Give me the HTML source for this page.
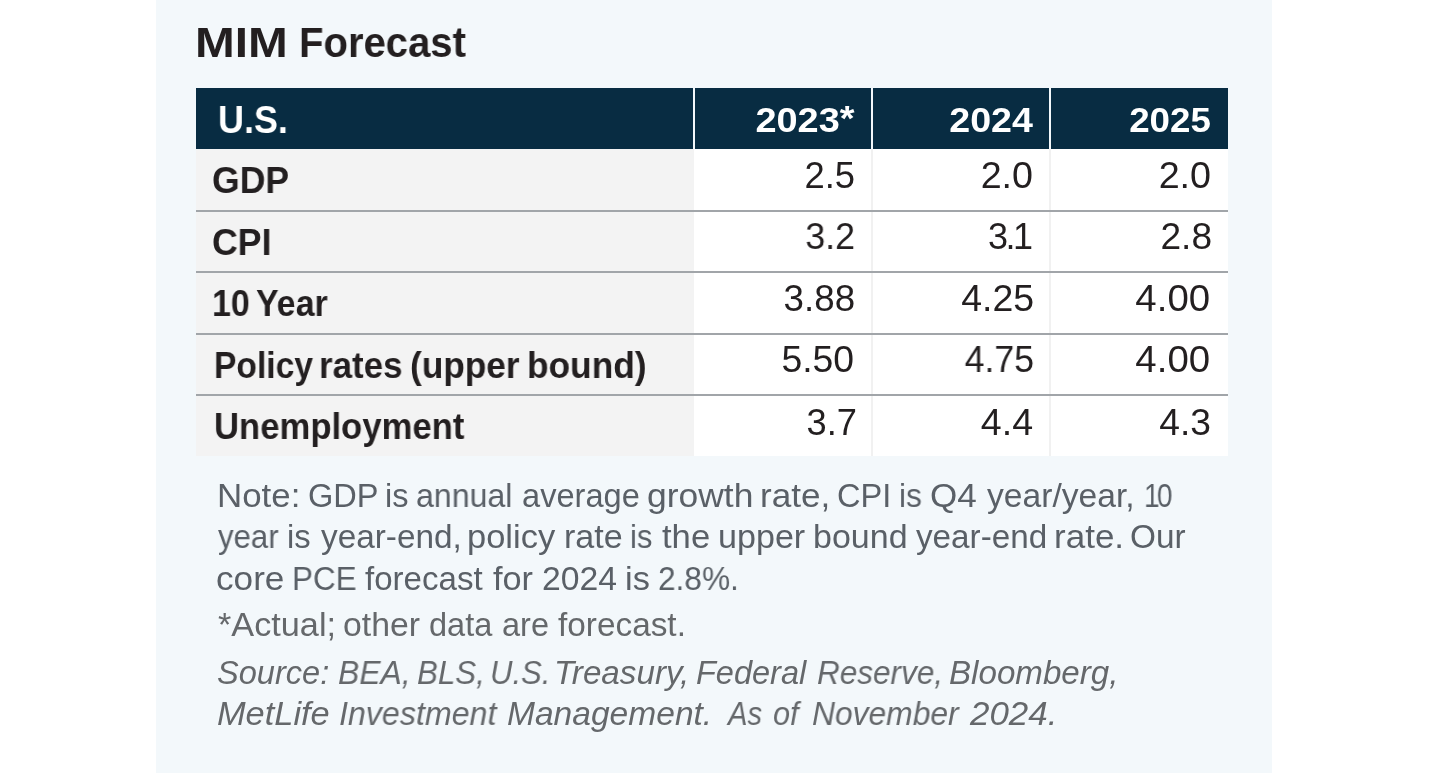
<!DOCTYPE html>
<html><head><meta charset="utf-8"><title>MIM Forecast</title><style>
*{margin:0;padding:0;box-sizing:border-box}
html,body{width:1429px;height:773px;overflow:hidden;background:#fff}
body{position:relative;font-family:"Liberation Sans",sans-serif}
.a{position:absolute}
.t{position:absolute;white-space:nowrap;line-height:1;will-change:transform}
</style></head><body>
<div class="a" style="left:156px;top:0;width:1116px;height:773px;background:#f3f8fb"></div>
<div class="a" style="left:196px;top:88px;width:497px;height:61px;background:#082c42"></div>
<div class="a" style="left:695px;top:88px;width:176px;height:61px;background:#082c42"></div>
<div class="a" style="left:873px;top:88px;width:176px;height:61px;background:#082c42"></div>
<div class="a" style="left:1051px;top:88px;width:177px;height:61px;background:#082c42"></div>
<div class="a" style="left:196px;top:149px;width:498px;height:307px;background:#f3f3f3"></div>
<div class="a" style="left:694px;top:149px;width:534px;height:307px;background:#fff"></div>
<div class="a" style="left:871px;top:149px;width:2px;height:307px;background:#f1f1f1"></div>
<div class="a" style="left:1049px;top:149px;width:2px;height:307px;background:#f1f1f1"></div>
<div class="a" style="left:196px;top:210px;width:1032px;height:2px;background:#a1a5a9"></div>
<div class="a" style="left:196px;top:271px;width:1032px;height:2px;background:#a1a5a9"></div>
<div class="a" style="left:196px;top:333px;width:1032px;height:2px;background:#a1a5a9"></div>
<div class="a" style="left:196px;top:394px;width:1032px;height:2px;background:#a1a5a9"></div>
<div class="t" style="left:195.40px;transform-origin:0 0;top:20.70px;font-size:43.4px;font-weight:700;font-style:normal;color:#231f20;letter-spacing:0px;transform:scaleX(1.1006);">MIM</div>
<div class="t" style="left:298.50px;transform-origin:0 0;top:22.16px;font-size:42.5px;font-weight:700;font-style:normal;color:#231f20;letter-spacing:0px;transform:scaleX(0.9424);">Forecast</div>
<div class="t" style="left:217.50px;transform-origin:0 0;top:99.90px;font-size:39px;font-weight:700;font-style:normal;color:#fff;letter-spacing:0px;transform:scaleX(0.9216);">U.S.</div>
<div class="t" style="right:574.40px;transform-origin:100% 0;top:102.09px;font-size:35px;font-weight:700;font-style:normal;color:#fff;letter-spacing:0px;transform:scaleX(1.0829);">2023<span style="position:relative;top:-2.5px">*</span></div>
<div class="t" style="right:396.60px;transform-origin:100% 0;top:102.37px;font-size:35px;font-weight:700;font-style:normal;color:#fff;letter-spacing:0px;transform:scaleX(1.0734);">2024</div>
<div class="t" style="right:218.30px;transform-origin:100% 0;top:102.37px;font-size:35px;font-weight:700;font-style:normal;color:#fff;letter-spacing:0px;transform:scaleX(1.0491);">2025</div>
<div class="t" style="left:212.00px;transform-origin:0 0;top:162.60px;font-size:36.5px;font-weight:700;font-style:normal;color:#231f20;letter-spacing:0px;transform:scaleX(0.9742);">GDP</div>
<div class="t" style="left:212.00px;transform-origin:0 0;top:224.70px;font-size:36.5px;font-weight:700;font-style:normal;color:#231f20;letter-spacing:0px;transform:scaleX(0.9776);">CPI</div>
<div class="t" style="left:211.59px;transform-origin:0 0;top:285.80px;font-size:36.5px;font-weight:700;font-style:normal;color:#231f20;transform:scaleX(0.9304);">10</div>
<div class="t" style="left:255.72px;transform-origin:0 0;top:285.80px;font-size:36.5px;font-weight:700;font-style:normal;color:#231f20;transform:scaleX(0.929);">Year</div>
<div class="t" style="left:213.68px;transform-origin:0 0;top:347.70px;font-size:36.5px;font-weight:700;font-style:normal;color:#231f20;transform:scaleX(0.9205);">Policy</div>
<div class="t" style="left:319.43px;transform-origin:0 0;top:347.70px;font-size:36.5px;font-weight:700;font-style:normal;color:#231f20;transform:scaleX(0.9568);">rates</div>
<div class="t" style="left:410.07px;transform-origin:0 0;top:347.70px;font-size:36.5px;font-weight:700;font-style:normal;color:#231f20;transform:scaleX(0.9654);">(upper</div>
<div class="t" style="left:526.91px;transform-origin:0 0;top:347.70px;font-size:36.5px;font-weight:700;font-style:normal;color:#231f20;transform:scaleX(0.9668);">bound)</div>
<div class="t" style="left:214.10px;transform-origin:0 0;top:409.00px;font-size:36.5px;font-weight:700;font-style:normal;color:#231f20;letter-spacing:0px;transform:scaleX(0.9495);">Unemployment</div>
<div class="t" style="right:573.50px;transform-origin:100% 0;top:157.92px;font-size:36px;font-weight:400;font-style:normal;color:#231f20;letter-spacing:0px;transform:scaleX(1.011);">2.5</div>
<div class="t" style="right:396.20px;transform-origin:100% 0;top:157.92px;font-size:36px;font-weight:400;font-style:normal;color:#231f20;letter-spacing:0px;transform:scaleX(1.0473);">2.0</div>
<div class="t" style="right:217.90px;transform-origin:100% 0;top:157.92px;font-size:36px;font-weight:400;font-style:normal;color:#231f20;letter-spacing:0px;transform:scaleX(1.0474);">2.0</div>
<div class="t" style="right:573.60px;transform-origin:100% 0;top:218.61px;font-size:36px;font-weight:400;font-style:normal;color:#231f20;letter-spacing:0px;transform:scaleX(0.9934);">3.2</div>
<div class="t" style="right:398.80px;transform-origin:100% 0;top:218.61px;font-size:36px;font-weight:400;font-style:normal;color:#231f20;letter-spacing:-2.5px;">3.1</div>
<div class="t" style="right:217.00px;transform-origin:100% 0;top:218.61px;font-size:36px;font-weight:400;font-style:normal;color:#231f20;letter-spacing:0px;transform:scaleX(1.03);">2.8</div>
<div class="t" style="right:574.20px;transform-origin:100% 0;top:280.61px;font-size:36px;font-weight:400;font-style:normal;color:#231f20;letter-spacing:0px;transform:scaleX(1.0198);">3.88</div>
<div class="t" style="right:395.00px;transform-origin:100% 0;top:280.61px;font-size:36px;font-weight:400;font-style:normal;color:#231f20;letter-spacing:0px;transform:scaleX(1.0401);">4.25</div>
<div class="t" style="right:218.50px;transform-origin:100% 0;top:280.61px;font-size:36px;font-weight:400;font-style:normal;color:#231f20;letter-spacing:0px;transform:scaleX(1.0661);">4.00</div>
<div class="t" style="right:574.50px;transform-origin:100% 0;top:341.53px;font-size:36px;font-weight:400;font-style:normal;color:#231f20;letter-spacing:0px;transform:scaleX(1.0371);">5.50</div>
<div class="t" style="right:395.00px;transform-origin:100% 0;top:341.53px;font-size:36px;font-weight:400;font-style:normal;color:#231f20;letter-spacing:0px;transform:scaleX(0.9904);">4.75</div>
<div class="t" style="right:218.50px;transform-origin:100% 0;top:341.53px;font-size:36px;font-weight:400;font-style:normal;color:#231f20;letter-spacing:0px;transform:scaleX(1.0661);">4.00</div>
<div class="t" style="right:572.20px;transform-origin:100% 0;top:404.54px;font-size:36px;font-weight:400;font-style:normal;color:#231f20;letter-spacing:0px;transform:scaleX(1.008);">3.7</div>
<div class="t" style="right:395.50px;transform-origin:100% 0;top:404.54px;font-size:36px;font-weight:400;font-style:normal;color:#231f20;letter-spacing:0px;transform:scaleX(1.0443);">4.4</div>
<div class="t" style="right:217.50px;transform-origin:100% 0;top:404.54px;font-size:36px;font-weight:400;font-style:normal;color:#231f20;letter-spacing:0px;transform:scaleX(1.0335);">4.3</div>
<div class="t" style="left:217.09px;transform-origin:0 0;top:480.19px;font-size:32.5px;font-weight:400;font-style:normal;color:#5a6067;transform:scaleX(1.0735);">Note:</div>
<div class="t" style="left:307.97px;transform-origin:0 0;top:480.19px;font-size:32.5px;font-weight:400;font-style:normal;color:#5a6067;transform:scaleX(1.0013);">GDP</div>
<div class="t" style="left:384.76px;transform-origin:0 0;top:480.19px;font-size:32.5px;font-weight:400;font-style:normal;color:#5a6067;transform:scaleX(0.9975);">is</div>
<div class="t" style="left:415.65px;transform-origin:0 0;top:480.19px;font-size:32.5px;font-weight:400;font-style:normal;color:#5a6067;transform:scaleX(0.9884);">annual</div>
<div class="t" style="left:521.63px;transform-origin:0 0;top:480.19px;font-size:32.5px;font-weight:400;font-style:normal;color:#5a6067;transform:scaleX(1.003);">average</div>
<div class="t" style="left:647.31px;transform-origin:0 0;top:480.19px;font-size:32.5px;font-weight:400;font-style:normal;color:#5a6067;transform:scaleX(1.0905);">growth</div>
<div class="t" style="left:760.28px;transform-origin:0 0;top:480.19px;font-size:32.5px;font-weight:400;font-style:normal;color:#5a6067;transform:scaleX(1.0823);">rate,</div>
<div class="t" style="left:836.97px;transform-origin:0 0;top:480.19px;font-size:32.5px;font-weight:400;font-style:normal;color:#5a6067;transform:scaleX(1.0028);">CPI</div>
<div class="t" style="left:898.91px;transform-origin:0 0;top:480.19px;font-size:32.5px;font-weight:400;font-style:normal;color:#5a6067;transform:scaleX(0.9727);">is</div>
<div class="t" style="left:929.95px;transform-origin:0 0;top:480.19px;font-size:32.5px;font-weight:400;font-style:normal;color:#5a6067;transform:scaleX(1.0786);">Q4</div>
<div class="t" style="left:986.63px;transform-origin:0 0;top:480.19px;font-size:32.5px;font-weight:400;font-style:normal;color:#5a6067;transform:scaleX(1.0342);">year/year,</div>
<div class="t" style="left:1143.88px;transform-origin:0 0;top:480.19px;font-size:32.5px;font-weight:400;font-style:normal;color:#5a6067;transform:scaleX(0.86);letter-spacing:-3px;">10</div>
<div class="t" style="left:218.44px;transform-origin:0 0;top:520.79px;font-size:32.5px;font-weight:400;font-style:normal;color:#5a6067;transform:scaleX(0.958);">year</div>
<div class="t" style="left:287.34px;transform-origin:0 0;top:520.79px;font-size:32.5px;font-weight:400;font-style:normal;color:#5a6067;transform:scaleX(1.0074);">is</div>
<div class="t" style="left:320.73px;transform-origin:0 0;top:520.79px;font-size:32.5px;font-weight:400;font-style:normal;color:#5a6067;transform:scaleX(1.0251);">year-end,</div>
<div class="t" style="left:467.29px;transform-origin:0 0;top:520.79px;font-size:32.5px;font-weight:400;font-style:normal;color:#5a6067;transform:scaleX(1.0611);">policy</div>
<div class="t" style="left:564.15px;transform-origin:0 0;top:520.79px;font-size:32.5px;font-weight:400;font-style:normal;color:#5a6067;transform:scaleX(1.0492);">rate</div>
<div class="t" style="left:630.36px;transform-origin:0 0;top:520.79px;font-size:32.5px;font-weight:400;font-style:normal;color:#5a6067;transform:scaleX(0.9529);">is</div>
<div class="t" style="left:662.08px;transform-origin:0 0;top:520.79px;font-size:32.5px;font-weight:400;font-style:normal;color:#5a6067;transform:scaleX(1.0657);">the</div>
<div class="t" style="left:717.52px;transform-origin:0 0;top:520.79px;font-size:32.5px;font-weight:400;font-style:normal;color:#5a6067;transform:scaleX(1.0492);">upper</div>
<div class="t" style="left:813.02px;transform-origin:0 0;top:520.79px;font-size:32.5px;font-weight:400;font-style:normal;color:#5a6067;transform:scaleX(1.0461);">bound</div>
<div class="t" style="left:916.33px;transform-origin:0 0;top:520.79px;font-size:32.5px;font-weight:400;font-style:normal;color:#5a6067;transform:scaleX(1.0227);">year-end</div>
<div class="t" style="left:1054.09px;transform-origin:0 0;top:520.79px;font-size:32.5px;font-weight:400;font-style:normal;color:#5a6067;transform:scaleX(1.0779);">rate.</div>
<div class="t" style="left:1130.43px;transform-origin:0 0;top:520.79px;font-size:32.5px;font-weight:400;font-style:normal;color:#5a6067;transform:scaleX(1.0263);">Our</div>
<div class="t" style="left:216.32px;transform-origin:0 0;top:562.79px;font-size:32.5px;font-weight:400;font-style:normal;color:#5a6067;transform:scaleX(1.0825);">core</div>
<div class="t" style="left:291.63px;transform-origin:0 0;top:562.79px;font-size:32.5px;font-weight:400;font-style:normal;color:#5a6067;transform:scaleX(0.9651);">PCE</div>
<div class="t" style="left:365.34px;transform-origin:0 0;top:562.79px;font-size:32.5px;font-weight:400;font-style:normal;color:#5a6067;transform:scaleX(1.0172);">forecast</div>
<div class="t" style="left:493.22px;transform-origin:0 0;top:562.79px;font-size:32.5px;font-weight:400;font-style:normal;color:#5a6067;transform:scaleX(1.0554);">for</div>
<div class="t" style="left:542.01px;transform-origin:0 0;top:562.79px;font-size:32.5px;font-weight:400;font-style:normal;color:#5a6067;transform:scaleX(1.0371);">2024</div>
<div class="t" style="left:624.73px;transform-origin:0 0;top:562.79px;font-size:32.5px;font-weight:400;font-style:normal;color:#5a6067;transform:scaleX(1.0571);">is</div>
<div class="t" style="left:657.72px;transform-origin:0 0;top:562.79px;font-size:32.5px;font-weight:400;font-style:normal;color:#5a6067;transform:scaleX(0.973);">2.8%.</div>
<div class="t" style="left:218.25px;transform-origin:0 0;top:608.99px;font-size:32.5px;font-weight:400;font-style:normal;color:#65686b;transform:scaleX(1.0539);">*Actual;</div>
<div class="t" style="left:342.78px;transform-origin:0 0;top:608.99px;font-size:32.5px;font-weight:400;font-style:normal;color:#65686b;transform:scaleX(1.0404);">other</div>
<div class="t" style="left:428.93px;transform-origin:0 0;top:608.99px;font-size:32.5px;font-weight:400;font-style:normal;color:#65686b;transform:scaleX(1.0014);">data</div>
<div class="t" style="left:501.95px;transform-origin:0 0;top:608.99px;font-size:32.5px;font-weight:400;font-style:normal;color:#65686b;transform:scaleX(0.9917);">are</div>
<div class="t" style="left:557.63px;transform-origin:0 0;top:608.99px;font-size:32.5px;font-weight:400;font-style:normal;color:#65686b;transform:scaleX(1.0262);">forecast.</div>
<div class="t" style="left:216.89px;transform-origin:0 0;top:656.89px;font-size:32.5px;font-weight:400;font-style:italic;color:#65686b;transform:scaleX(1.002);">Source:</div>
<div class="t" style="left:337.84px;transform-origin:0 0;top:656.89px;font-size:32.5px;font-weight:400;font-style:italic;color:#65686b;transform:scaleX(0.9809);">BEA,</div>
<div class="t" style="left:416.86px;transform-origin:0 0;top:656.89px;font-size:32.5px;font-weight:400;font-style:italic;color:#65686b;transform:scaleX(0.9617);">BLS,</div>
<div class="t" style="left:489.70px;transform-origin:0 0;top:656.89px;font-size:32.5px;font-weight:400;font-style:italic;color:#65686b;transform:scaleX(0.9553);">U.S.</div>
<div class="t" style="left:554.34px;transform-origin:0 0;top:656.89px;font-size:32.5px;font-weight:400;font-style:italic;color:#65686b;transform:scaleX(1.0217);">Treasury,</div>
<div class="t" style="left:695.83px;transform-origin:0 0;top:656.89px;font-size:32.5px;font-weight:400;font-style:italic;color:#65686b;transform:scaleX(0.9977);">Federal</div>
<div class="t" style="left:816.55px;transform-origin:0 0;top:656.89px;font-size:32.5px;font-weight:400;font-style:italic;color:#65686b;transform:scaleX(0.9695);">Reserve,</div>
<div class="t" style="left:949.01px;transform-origin:0 0;top:656.89px;font-size:32.5px;font-weight:400;font-style:italic;color:#65686b;transform:scaleX(1.0194);">Bloomberg,</div>
<div class="t" style="left:217.47px;transform-origin:0 0;top:698.19px;font-size:32.5px;font-weight:400;font-style:italic;color:#65686b;transform:scaleX(1.0572);">MetLife</div>
<div class="t" style="left:338.64px;transform-origin:0 0;top:698.19px;font-size:32.5px;font-weight:400;font-style:italic;color:#65686b;transform:scaleX(0.9904);">Investment</div>
<div class="t" style="left:507.19px;transform-origin:0 0;top:698.19px;font-size:32.5px;font-weight:400;font-style:italic;color:#65686b;transform:scaleX(1.0325);">Management.</div>
<div class="t" style="left:728.30px;transform-origin:0 0;top:698.19px;font-size:32.5px;font-weight:400;font-style:italic;color:#65686b;transform:scaleX(0.8971);">As</div>
<div class="t" style="left:773.22px;transform-origin:0 0;top:698.19px;font-size:32.5px;font-weight:400;font-style:italic;color:#65686b;transform:scaleX(0.9449);">of</div>
<div class="t" style="left:811.55px;transform-origin:0 0;top:698.19px;font-size:32.5px;font-weight:400;font-style:italic;color:#65686b;transform:scaleX(0.9783);">November</div>
<div class="t" style="left:970.30px;transform-origin:0 0;top:698.19px;font-size:32.5px;font-weight:400;font-style:italic;color:#65686b;transform:scaleX(1.0738);">2024.</div>
</body></html>
